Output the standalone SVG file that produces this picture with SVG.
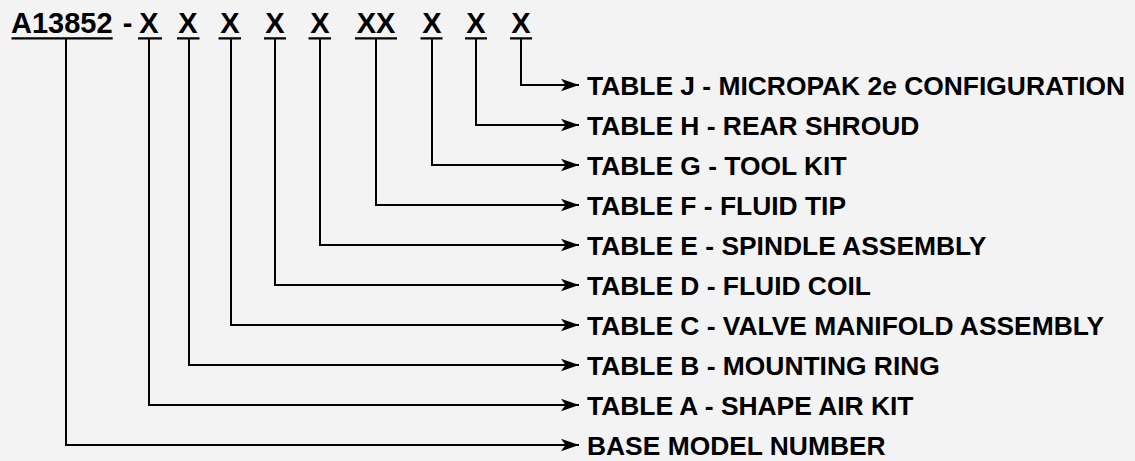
<svg xmlns="http://www.w3.org/2000/svg" width="1135" height="461" viewBox="0 0 1135 461">
  <style>
    .code { font-family: "Liberation Sans", Arial, sans-serif; font-weight: bold; font-size: 29px; fill: #000; }
    .lbl { font-family: "Liberation Sans", Arial, sans-serif; font-weight: bold; font-size: 26.4px; fill: #000; }
    .ul { stroke: #000; stroke-width: 2.2; fill: none; }
    .conn { stroke: #000; stroke-width: 2; fill: none; marker-end: url(#arrow); }
  </style>
  <defs>
    <marker id="arrow" markerUnits="userSpaceOnUse" markerWidth="20" markerHeight="14" viewBox="0 -7 20 14" refX="18" refY="0" orient="auto">
      <path d="M0,-6.2 L18,0 L0,6.2 L4.5,0 Z" fill="#000"/>
    </marker>
  </defs>
  <rect width="1135" height="461" fill="#f3f3f3"/>

  <g id="model-code">
    <text class="code" x="11" y="33">A13852</text>
    <text class="code" x="127.5" y="33" text-anchor="middle">-</text>
    <text class="code" x="149" y="33" text-anchor="middle">X</text>
    <text class="code" x="188" y="33" text-anchor="middle">X</text>
    <text class="code" x="230" y="33" text-anchor="middle">X</text>
    <text class="code" x="275" y="33" text-anchor="middle">X</text>
    <text class="code" x="320" y="33" text-anchor="middle">X</text>
    <text class="code" x="376" y="33" text-anchor="middle">XX</text>
    <text class="code" x="432" y="33" text-anchor="middle">X</text>
    <text class="code" x="476" y="33" text-anchor="middle">X</text>
    <text class="code" x="521" y="33" text-anchor="middle">X</text>
    <path class="ul" d="M11.5,38.3 H112.7 M138,38.3 H162 M177,38.3 H199.5 M218.5,38.3 H241 M264,38.3 H286 M308.5,38.3 H331 M355,38.3 H397 M420.5,38.3 H442.5 M465,38.3 H487 M510,38.3 H532"/>
  </g>

  <g id="connectors">
    <path class="conn" d="M66,38 V445 H579"/>
    <path class="conn" d="M149,38 V405 H579"/>
    <path class="conn" d="M189,38 V365 H579"/>
    <path class="conn" d="M231,38 V325 H579"/>
    <path class="conn" d="M275,38 V285 H579"/>
    <path class="conn" d="M320,38 V245 H579"/>
    <path class="conn" d="M376,38 V205 H579"/>
    <path class="conn" d="M432,38 V165 H579"/>
    <path class="conn" d="M476,38 V125 H579"/>
    <path class="conn" d="M521,38 V85 H579"/>
  </g>

  <g id="table-j"><text class="lbl" x="587" y="94.5">TABLE J - MICROPAK 2e CONFIGURATION</text></g>
  <g id="table-h"><text class="lbl" x="587" y="134.5">TABLE H - REAR SHROUD</text></g>
  <g id="table-g"><text class="lbl" x="587" y="174.5">TABLE G - TOOL KIT</text></g>
  <g id="table-f"><text class="lbl" x="587" y="214.5">TABLE F - FLUID TIP</text></g>
  <g id="table-e"><text class="lbl" x="587" y="254.5">TABLE E - SPINDLE ASSEMBLY</text></g>
  <g id="table-d"><text class="lbl" x="587" y="294.5">TABLE D - FLUID COIL</text></g>
  <g id="table-c"><text class="lbl" x="587" y="334.5">TABLE C - VALVE MANIFOLD ASSEMBLY</text></g>
  <g id="table-b"><text class="lbl" x="587" y="374.5">TABLE B - MOUNTING RING</text></g>
  <g id="table-a"><text class="lbl" x="587" y="414.5">TABLE A - SHAPE AIR KIT</text></g>
  <g id="base-model"><text class="lbl" x="587" y="454.5">BASE MODEL NUMBER</text></g>
</svg>
